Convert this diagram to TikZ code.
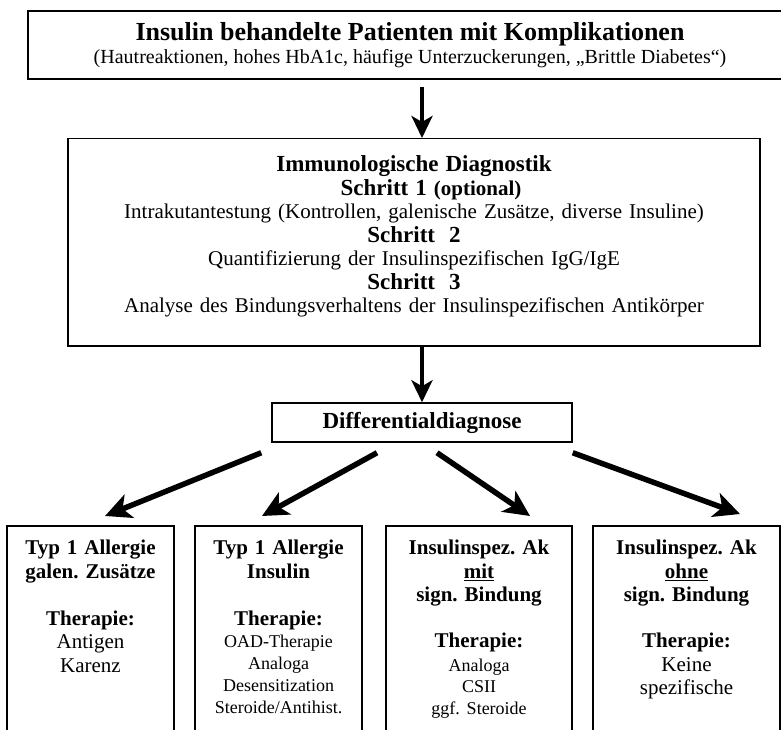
\documentclass[tikz,border=0pt]{standalone}
\usepackage{fontspec}
\setmainfont{Liberation Serif}
\usetikzlibrary{arrows.meta}
\frenchspacing

\begin{document}
\begin{tikzpicture}[
    x=1pt, y=-1pt,
    box/.style={draw, line width=1.5pt, align=center, inner xsep=4pt},
    leaf/.style={box, anchor=north, text width=#1, inner ysep=9pt, text height=20pt, text depth=200pt, font=\fontsize{21}{23.5}\selectfont},
    arrow/.style={-{Stealth[length=22pt,width=21pt,inset=6pt]}, line width=4.5pt},
    slant/.style={-{Stealth[length=26pt,width=25pt,inset=7pt]}, line width=5.5pt}
]
\useasboundingbox (0,0) rectangle (781,730);
\clip (0,0) rectangle (781,730);

\node[box, minimum width=780, minimum height=68, font=\fontsize{20}{23}\selectfont] (patients) at (418,45)
    {{\fontsize{26}{23}\selectfont\bfseries Insulin behandelte Patienten mit Komplikationen}\hspace*{16pt}\\
     (Hautreaktionen, hohes HbA1c, häufige Unterzuckerungen, „Brittle Diabetes“)\hspace*{16pt}};
\node[box, anchor=north, text width=684pt, inner ysep=17pt, text height=16pt, text depth=157pt, font=\fontsize{21}{23.5}\selectfont] (diagnostics) at (414,138)
    {{\fontsize{23}{23.5}\selectfont\bfseries Immunologische Diagnostik}\\
     \hspace*{34pt}{\fontsize{23}{23.5}\selectfont\bfseries Schritt 1 {\fontsize{21}{23.5}\selectfont(optional)}}\\
     Intrakutantestung (Kontrollen, galenische Zusätze, diverse Insuline)\\
     {\fontsize{23}{23.5}\selectfont\bfseries Schritt\ \ 2}\\
     Quantifizierung der Insulinspezifischen IgG/IgE\\
     {\fontsize{23}{23.5}\selectfont\bfseries Schritt\ \ 3}\\
     Analyse des Bindungsverhaltens der Insulinspezifischen Antikörper};
\node[box, minimum width=300, minimum height=39, font=\fontsize{23}{25}\selectfont\bfseries] (diff) at (422,422.5) {Differentialdiagnose};

% the four outcomes
\node[leaf=159pt] (galen) at (90.5,525)
    {{\bfseries Typ 1 Allergie\\ galen. Zusätze}\\[23.5pt]
     {\bfseries Therapie:}\\ Antigen\\ Karenz};
\node[leaf=159pt] (allergy) at (278.5,525)
    {{\bfseries Typ 1 Allergie\\ Insulin}\\[23.5pt]
     {\bfseries Therapie:}\\[-1.5pt]
     {\fontsize{18}{23.5}\selectfont OAD-Therapie}\\[-1.5pt]
     {\fontsize{18}{23.5}\selectfont Analoga}\\[-1.5pt]
     {\fontsize{18}{23.5}\selectfont Desensitization}\\[-1.5pt]
     {\fontsize{18}{23.5}\selectfont Steroide/Antihist.}};
\node[leaf=178pt] (binding) at (479,525)
    {{\bfseries Insulinspez. Ak\\ \underline{mit}\\ sign. Bindung}\\[22.5pt]
     {\bfseries Therapie:}\\
     {\fontsize{18}{23.5}\selectfont Analoga}\\[-2pt]
     {\fontsize{18}{23.5}\selectfont CSII}\\[-2pt]
     {\fontsize{18}{23.5}\selectfont ggf. Steroide}};
\node[leaf=179pt] (nobinding) at (686.5,525)
    {{\bfseries Insulinspez. Ak\\ \underline{ohne}\\ sign. Bindung}\\[22.5pt]
     {\bfseries Therapie:}\\ Keine\\ spezifische};

\draw[arrow, shorten <=7pt] (patients.south -| diff.north) -- (diagnostics.north -| diff.north);
\draw[arrow] (diagnostics.south -| diff.north) -- (diff.north);
\draw[slant] ([shift={(-10pt,-10pt)}]diff.south west) -- ([shift={(14.5pt,9pt)}]galen.north);
\draw[slant] ([shift={(-45pt,-10pt)}]diff.south) -- ([shift={(-16.5pt,9pt)}]allergy.north);
\draw[slant] ([shift={(15pt,-10pt)}]diff.south) -- ([shift={(51pt,9pt)}]binding.north);
\draw[slant] ([shift={(0pt,-10pt)}]diff.south east) -- ([shift={(53.5pt,11pt)}]nobinding.north);
\end{tikzpicture}
\end{document}
